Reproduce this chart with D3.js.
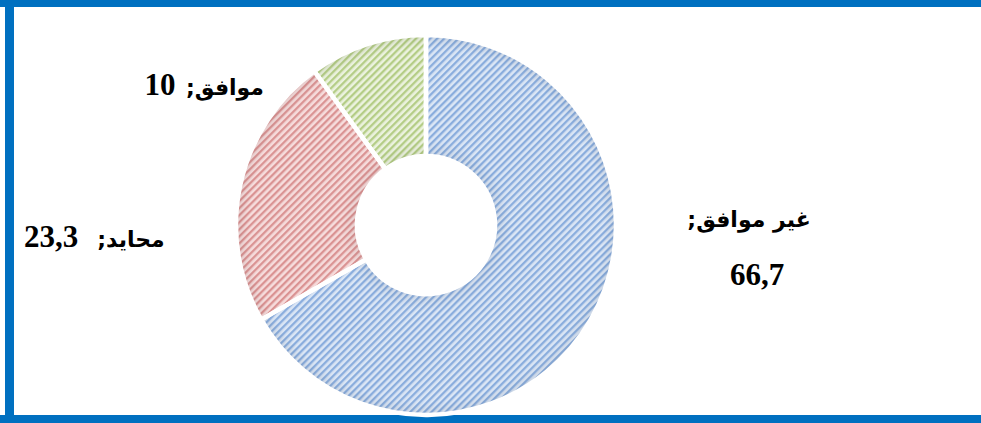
<!DOCTYPE html>
<html>
<head>
<meta charset="utf-8">
<script src="https://cdn.jsdelivr.net/npm/d3@7"></script>
<style>
  html, body { margin: 0; padding: 0; background: #fff; }
  svg { display: block; }
  .num { font-family: "Liberation Serif", "Times New Roman", serif; font-weight: bold; font-size: 31px; fill: #000; }
  .cat { font-family: "DejaVu Sans", sans-serif; font-weight: bold; font-size: 22px; fill: #000; }
</style>
</head>
<body>
<svg id="chart" width="981" height="423"></svg>
<script>
// Survey answers (percent)
const categories = ["غير موافق", "محايد", "موافق"];
const values = [66.7, 23.3, 10];
const valueLabels = ["66,7", "23,3", "10"];
const fills = [
  { bg: "#dbe6f5", stripe: "#8aaddd" },
  { bg: "#f6dcdc", stripe: "#da9393" },
  { bg: "#ebf2de", stripe: "#b4cd86" }
];

const W = 981, H = 423;
const cx = 426, cy = 225, outerR = 190, innerR = 69;

const svg = d3.select("#chart");
const defs = svg.append("defs");

// Diagonal hatch pattern per slice
const P = 5;
fills.forEach((f, i) => {
  const p = defs.append("pattern")
    .attr("id", "hatch" + i)
    .attr("patternUnits", "userSpaceOnUse")
    .attr("width", P).attr("height", P)
    .attr("patternTransform", "rotate(45)");
  p.append("rect").attr("width", P).attr("height", P).attr("fill", f.bg);
  p.append("rect").attr("x", 0).attr("width", 2.3).attr("height", P).attr("fill", f.stripe);
});

// Soft shading toward the ring edges
const shade = defs.append("radialGradient")
  .attr("id", "shade")
  .attr("gradientUnits", "userSpaceOnUse")
  .attr("cx", 0).attr("cy", 0).attr("r", outerR);
[[innerR / outerR, 0.06], [0.45, 0], [0.93, 0], [1, 0.07]].forEach(([o, a]) => {
  shade.append("stop").attr("offset", o).attr("stop-color", "#000").attr("stop-opacity", a);
});

// Frame
svg.append("rect").attr("x", 0).attr("y", 0).attr("width", W).attr("height", 7).attr("fill", "#0070c0");
svg.append("rect").attr("x", 5).attr("y", 0).attr("width", 9).attr("height", H).attr("fill", "#0070c0");
svg.append("rect").attr("x", 0).attr("y", 415).attr("width", W).attr("height", 8).attr("fill", "#0070c0");

const pie = d3.pie().sort(null).value(d => d)(values);
const arc = d3.arc().innerRadius(innerR).outerRadius(outerR);

const g = svg.append("g").attr("transform", `translate(${cx},${cy})`);
g.selectAll("path.slice")
  .data(pie)
  .join("path")
  .attr("class", "slice")
  .attr("d", arc)
  .attr("fill", (d, i) => `url(#hatch${i})`);

g.selectAll("path.shade")
  .data(pie)
  .join("path")
  .attr("class", "shade")
  .attr("d", arc)
  .attr("fill", "url(#shade)");

g.selectAll("path.sep")
  .data(pie)
  .join("path")
  .attr("class", "sep")
  .attr("d", arc)
  .attr("fill", "none")
  .attr("stroke", "#fff")
  .attr("stroke-width", 4.5)
  .attr("stroke-linejoin", "round");

// Data labels: category name (with separator) and value
const labels = [
  { cat: [749, 227], num: [757, 285] },
  { cat: [131, 247], num: [51, 247] },
  { cat: [225, 95], num: [160, 95] }
];
labels.forEach((l, i) => {
  svg.append("text")
    .attr("class", "cat")
    .attr("x", l.cat[0]).attr("y", l.cat[1])
    .attr("direction", "rtl")
    .attr("text-anchor", "middle")
    .text(categories[i] + ";");
  svg.append("text")
    .attr("class", "num")
    .attr("x", l.num[0]).attr("y", l.num[1])
    .attr("text-anchor", "middle")
    .text(valueLabels[i]);
});
</script>
</body>
</html>
